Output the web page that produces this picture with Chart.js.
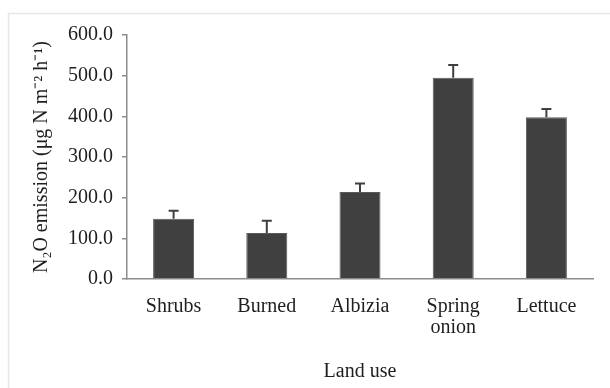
<!DOCTYPE html>
<html>
<head>
<meta charset="utf-8">
<script src="https://cdn.jsdelivr.net/npm/chart.js@4"></script>
<style>
  html, body { margin: 0; padding: 0; background: #fff; }
  #wrap { width: 610px; height: 388px; }
</style>
</head>
<body>
<div id="wrap"><canvas id="chart" width="610" height="388"></canvas></div>
<script>
const landUse = ["Shrubs", "Burned", "Albizia", ["Spring", "onion"], "Lettuce"];
const emission = [148, 113, 214, 495, 398];
const emissionErr = [20, 30, 21, 31, 20];
const yTicks = [0, 100, 200, 300, 400, 500, 600];

const axisColor = "#8c8c8c";
const textColor = "#1e1e1e";
const font = { family: "'Liberation Serif', 'Times New Roman', serif", size: 20 };

// draws the upward error bars with a cap on top
const errorBars = {
    id: "errorBars",
    afterDatasetsDraw(chart) {
        const ctx = chart.ctx;
        const yScale = chart.scales.y;
        const meta = chart.getDatasetMeta(0);
        ctx.save();
        ctx.strokeStyle = "#404040";
        ctx.lineWidth = 2;
        meta.data.forEach((bar, i) => {
            const top = yScale.getPixelForValue(emission[i] + emissionErr[i]);
            ctx.beginPath();
            ctx.moveTo(bar.x, bar.y);
            ctx.lineTo(bar.x, top);
            ctx.moveTo(bar.x - 5, top);
            ctx.lineTo(bar.x + 5, top);
            ctx.stroke();
        });
        ctx.restore();
    },
};

// faint frame line along the top and left edge of the figure
const frame = {
    id: "frame",
    beforeDraw(chart) {
        const ctx = chart.ctx;
        ctx.save();
        ctx.fillStyle = "#fff";
        ctx.fillRect(0, 0, chart.width, chart.height);
        ctx.strokeStyle = "#e6e6e6";
        ctx.lineWidth = 1.5;
        ctx.beginPath();
        ctx.moveTo(8.5, chart.height);
        ctx.lineTo(8.5, 13.5);
        ctx.lineTo(chart.width, 13.5);
        ctx.stroke();
        ctx.restore();
    },
};

new Chart(document.getElementById("chart").getContext("2d"), {
    type: "bar",
    data: {
        labels: landUse,
        datasets: [
            {
                data: emission,
                backgroundColor: "#404040",
                borderColor: "#5a5a5a",
                borderWidth: 1,
                categoryPercentage: 1,
                barPercentage: 0.44,
            },
        ],
    },
    options: {
        responsive: false,
        animation: false,
        layout: {
            padding: { left: 26, top: 35, right: 17, bottom: 0 },
        },
        plugins: {
            legend: { display: false },
            tooltip: { enabled: false },
        },
        scales: {
            x: {
                grid: { display: false },
                border: { display: true, color: axisColor, width: 1.5 },
                ticks: {
                    color: textColor,
                    font: { ...font, lineHeight: 1.05 },
                    padding: 9,
                    maxRotation: 0,
                    autoSkip: false,
                },
                title: {
                    display: true,
                    text: "Land use",
                    color: textColor,
                    font: font,
                    padding: { top: 4, bottom: 4 },
                },
                afterFit(scale) {
                    scale.height = 109;
                },
            },
            y: {
                min: 0,
                max: 600,
                afterBuildTicks(scale) {
                    scale.ticks = yTicks.map((v) => ({ value: v }));
                },
                grid: {
                    drawOnChartArea: false,
                    drawTicks: true,
                    tickLength: 5,
                    color: axisColor,
                    lineWidth: 1.5,
                },
                border: { display: true, color: axisColor, width: 1.5 },
                ticks: {
                    color: textColor,
                    font: font,
                    padding: 9,
                    callback: (v) => Number(v).toFixed(1),
                },
                title: {
                    display: true,
                    text: "N\u2082O emission (\u03bcg N m\u207b\u00b2 h\u207b\u00b9)",
                    color: textColor,
                    font: font,
                    padding: { top: 4, bottom: 4 },
                },
                afterFit(scale) {
                    scale.width = 101;
                },
            },
        },
    },
    plugins: [frame, errorBars],
});
</script>
</body>
</html>
